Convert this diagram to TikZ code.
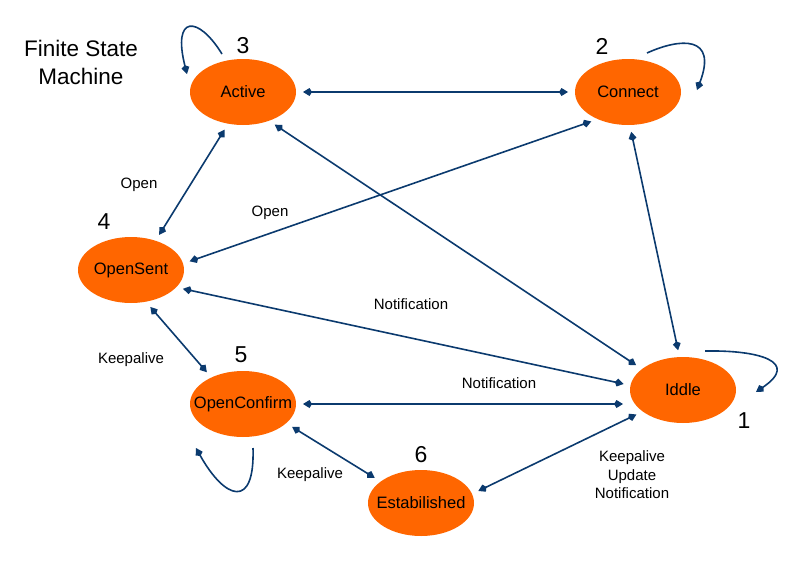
\documentclass[tikz,border=0pt]{standalone}
\usepackage{fontspec}
\setmainfont{Liberation Sans}
\usetikzlibrary{arrows.meta,shapes.geometric,calc}
\definecolor{stateorange}{HTML}{FF6600}
\definecolor{linkblue}{HTML}{0B3A6E}
\newcommand{\stxt}[1]{\makebox[0pt][c]{#1}}
\begin{document}
\begin{tikzpicture}[x=1pt,y=-1pt,
  >={Kite[length=9pt,width=8pt,inset=2.5pt]},
  state/.style={ellipse, fill=stateorange, minimum width=106pt, minimum height=66pt, inner sep=0pt, outer sep=0pt, font=\fontsize{16.5}{18}\selectfont},
  link/.style={draw=linkblue, line width=1.6pt, <->, shorten <=7pt, shorten >=7pt},
  selfloop/.style={draw=linkblue, line width=1.6pt, ->},
  lbl/.style={font=\fontsize{15}{18.5}\selectfont, align=center, inner sep=0pt},
  num/.style={font=\fontsize{23}{26}\selectfont, inner sep=0pt},
  title/.style={font=\fontsize{22.5}{28}\selectfont, align=center, inner sep=0pt}
]
\useasboundingbox (0,0) rectangle (800,570);

% states
\node[state] (Active) at (243,92) {\stxt{Active}};
\node[state] (Connect) at (628,92) {\stxt{Connect}};
\node[state] (OpenSent) at (131,270) {\stxt{OpenSent}};
\node[state] (OpenConfirm) at (243,404) {\stxt{OpenConfirm}};
\node[state] (Iddle) at (683,390) {\stxt{Iddle}};
\node[state] (Estabilished) at (421,503) {\stxt{Estabilished}};

% numbers
\node[num] (n3) at (243,46) {3};
\node[num] (n2) at (602,46) {2};
\node[num] (n4) at (104,222) {4};
\node[num] (n5) at (241,355) {5};
\node[num] (n1) at (744,421) {1};
\node[num] (n6) at (421,455) {6};

% title
\node[title] (ttl) at (81,62) {Finite State\\Machine};

% connectors
\draw[link] (Active.east) -- (Connect.west);
\draw[link] (Active.-48) -- (Iddle.153);
\draw[link] (Connect.-138) -- (OpenSent.7);
\draw[link] (Connect.-87) -- (Iddle.96);
\draw[link] (Active.-115) -- (OpenSent.50);
\draw[link] (OpenSent.-21) -- (Iddle.175);
\draw[link] (OpenSent.-65) -- (OpenConfirm.140);
\draw[link] (OpenConfirm.east) -- (OpenConfirm.east -| Iddle.west);
\draw[link] (OpenConfirm.-24) -- (Estabilished.152);
\draw[link] (Estabilished.10) -- (Iddle.208);

% self loops
\coordinate (aS) at (222,54);
\coordinate (aE) at (187,74);
\draw[selfloop] (aS) .. controls (198,15) and (172,15) .. (aE);
\coordinate (cS) at (647,53);
\coordinate (cE) at (697,90);
\draw[selfloop] (cS) .. controls (680,38) and (718,35) .. (cE);
\coordinate (iS) at (705,351);
\coordinate (iE) at (756,392);
\draw[selfloop] (iS) .. controls (760,350) and (800,362) .. (iE);
\coordinate (oS) at (253,448);
\coordinate (oE) at (196,448);
\draw[selfloop] (oS) .. controls (255,510) and (225,500) .. (oE);

% labels
\node[lbl] (l1) at (139,185) {Open};
\node[lbl] (l2) at (270,213) {Open};
\node[lbl] (l3) at (411,304) {Notification};
\node[lbl] (l4) at (131,360) {Keepalive};
\node[lbl] (l5) at (499,383) {Notification};
\node[lbl] (l6) at (310,475) {Keepalive};
\node[lbl] (l7) at (632,475) {Keepalive\\Update\\Notification};
\end{tikzpicture}
\end{document}
